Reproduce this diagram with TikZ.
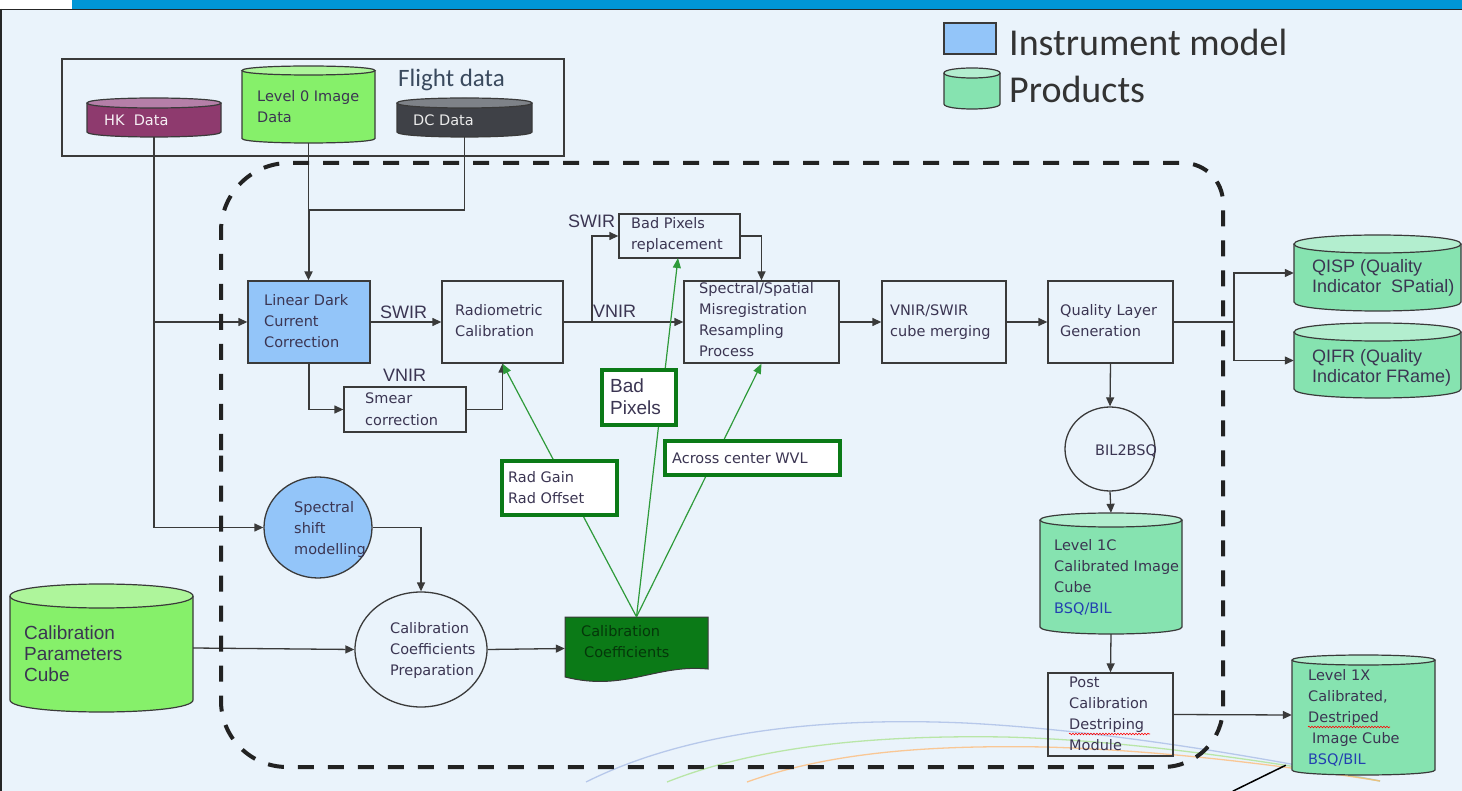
\documentclass[tikz,border=0pt]{standalone}
\usepackage{fontspec}
\setmainfont{DejaVu Sans}
\newfontfamily\farial{Liberation Sans}
\newfontfamily\fcarl{Carlito}
\usetikzlibrary{arrows.meta,shapes.geometric,fit,decorations.pathmorphing}
\definecolor{cbg}{HTML}{EAF3FB}
\definecolor{ctopbar}{HTML}{0096D6}
\definecolor{cln}{HTML}{3A3A3A}
\definecolor{cim}{HTML}{93C5F9}
\definecolor{cprod}{HTML}{86E3B0}
\definecolor{cprodtop}{HTML}{B3EECF}
\definecolor{clg}{HTML}{86F06A}
\definecolor{clgtop}{HTML}{AEF59B}
\definecolor{chk}{HTML}{8E3A6E}
\definecolor{chktop}{HTML}{B57FA8}
\definecolor{cdc}{HTML}{3F4147}
\definecolor{cdctop}{HTML}{7E8288}
\definecolor{cdg}{HTML}{0B7A17}
\definecolor{cgl}{HTML}{2E9A3A}
\definecolor{ctxt}{HTML}{3B3552}
\definecolor{cbsq}{HTML}{2340B0}
\definecolor{cdash}{HTML}{222222}
\definecolor{cfd}{HTML}{3A4A5E}
\newcommand{\mycyl}[8]{%
  \fill[#7] ({#2},{#4+#6}) -- ({#2},{#5-#6}) .. controls ({#2},{#5+#6/3}) and ({#3},{#5+#6/3}) .. ({#3},{#5-#6}) -- ({#3},{#4+#6}) -- cycle;
  \fill[#8] ({#2},{#4+#6}) .. controls ({#2},{#4-#6/3}) and ({#3},{#4-#6/3}) .. ({#3},{#4+#6}) .. controls ({#3},{#4+7*#6/3}) and ({#2},{#4+7*#6/3}) .. ({#2},{#4+#6}) -- cycle;
  \draw[cln, line width=1.2] ({#2},{#4+#6}) -- ({#2},{#5-#6}) .. controls ({#2},{#5+#6/3}) and ({#3},{#5+#6/3}) .. ({#3},{#5-#6}) -- ({#3},{#4+#6});
  \draw[cln, line width=1.2] ({#2},{#4+#6}) .. controls ({#2},{#4-#6/3}) and ({#3},{#4-#6/3}) .. ({#3},{#4+#6}) .. controls ({#3},{#4+7*#6/3}) and ({#2},{#4+7*#6/3}) .. ({#2},{#4+#6}) -- cycle;
  \node[fit={({#2},{#4}) ({#3},{#5})}, inner sep=0pt] (#1) {};
}
\tikzset{
  box/.style={draw=cln, line width=1.3, inner sep=0pt},
  con/.style={draw=cln, line width=1.3},
  arr/.style={draw=cln, line width=1.3, -{Triangle[length=9pt,width=8pt]}},
  gline/.style={draw=cgl, line width=1.2, -{Triangle[length=10pt,width=8pt]}},
  gbox/.style={draw=cdg, line width=3.5, fill=white, inner sep=0pt},
  btxt/.style={font=\fontsize{14.5}{21}\selectfont, text=ctxt, inner sep=0pt, anchor=base west, align=left},
  lbl/.style={font=\farial\fontsize{18}{20}\selectfont, text=ctxt, inner sep=0pt, anchor=base west, align=left},
  arc/.style={line width=1.3, opacity=0.75},
}
\begin{document}
\begin{tikzpicture}[x=1pt,y=-1pt]
\fill[cbg] (0,0) rectangle (1462,791);
\useasboundingbox (0,0) rectangle (1462,791);
\fill[white] (0,0) rectangle (72,9);
\fill[ctopbar] (72,0) rectangle (1462,9);
\draw[black!85, line width=1.5] (0,9.75) -- (1462,9.75);
\draw[black!85, line width=1.5] (0.75,9) -- (0.75,791);

% decorative arcs
\draw[arc, draw=cyan!45!blue!35] (586,782) .. controls (700,725) and (850,718) .. (965,723) .. controls (1100,730) and (1250,755) .. (1380,781);
\draw[arc, draw=green!50!olive!45] (667,782) .. controls (760,745) and (880,735) .. (1005,737) .. controls (1120,740) and (1250,758) .. (1380,781);
\draw[arc, draw=orange!55] (747,782) .. controls (830,752) and (930,745) .. (1045,747) .. controls (1150,750) and (1260,762) .. (1380,781);

% legend
\node[box, fill=cim, minimum width=52, minimum height=31] (lgb) at (970,38.5) {};
\node[font=\fcarl\fontsize{38}{40}\selectfont, text=black!80, inner sep=0pt, anchor=base west] (lgbt) at (1009,56) {Instrument model};
\mycyl{lgp}{944}{1000}{68}{109}{5}{cprod}{cprodtop}
\node[font=\fcarl\fontsize{38}{40}\selectfont, text=black!80, inner sep=0pt, anchor=base west] (lgpt) at (1009,103) {Products};

% flight data
\node[box, minimum width=502, minimum height=97] (fd) at (313,107.5) {};
\node[font=\fcarl\fontsize{25}{27}\selectfont, text=cfd, inner sep=0pt, anchor=base west] (fdt) at (398,87) {Flight data};
\mycyl{hk}{87}{221}{98}{137}{5}{chk}{chktop}
\mycyl{l0}{242}{375}{66}{143}{4.5}{clg}{clgtop}
\mycyl{dc}{397}{532}{98}{137}{5}{cdc}{cdctop}
\node[btxt, text=white!92!chk] (hkt) at (104,126) {HK\ \ Data};
\node[btxt] (l0t) at (257,123) {Level 0 Image\\Data};
\node[btxt, text=white!92!black] (dct) at (413,126) {DC Data};

% other cylinders
\mycyl{cpc}{10}{193}{584}{712}{12}{clg}{clgtop}
\mycyl{qisp}{1294}{1461}{235}{311}{9}{cprod}{cprodtop}
\mycyl{qifr}{1294}{1461}{323}{398}{9}{cprod}{cprodtop}
\mycyl{l1c}{1040}{1182}{513}{634}{7}{cprod}{cprodtop}
\mycyl{l1x}{1292}{1435}{655}{775}{5}{cprod}{cprodtop}

% boxes
\node[box, fill=cim, minimum width=122, minimum height=82] (ldc) at (309,322) {};
\node[box, minimum width=121, minimum height=82] (rad) at (502.5,322) {};
\node[box, minimum width=122, minimum height=45] (smear) at (405,409.5) {};
\node[box, minimum width=121, minimum height=44] (bpr) at (679.5,236) {};
\node[box, minimum width=155, minimum height=82] (ssp) at (761.5,322) {};
\node[box, minimum width=124, minimum height=82] (vs) at (944,322) {};
\node[box, minimum width=125, minimum height=82] (ql) at (1110.5,322) {};
\node[box, minimum width=125, minimum height=83] (post) at (1110.5,714.5) {};
\node[box, ellipse, fill=cim, minimum width=108, minimum height=101] (ssm) at (318,527.5) {};
\node[box, ellipse, minimum width=132, minimum height=115] (ccp) at (421,649.5) {};
\node[box, ellipse, minimum width=90, minimum height=84] (bil) at (1110,449) {};

% document
\fill[cdg] (565,617) -- (708,617) -- (708,669) .. controls (655,664) and (625,692) .. (565,677) -- cycle;
\draw[cln, line width=1] (565,617) -- (708,617) -- (708,669) .. controls (655,664) and (625,692) .. (565,677) -- cycle;
\node[fit={(565,617) (708,680)}, inner sep=0pt] (doc) {};

% coordinates
\coordinate (dj) at (308.5,210);
\coordinate (b1) at (592,322);
\coordinate (qb) at (1234,322);
\coordinate (bpt) at (678,258);

% connectors
\draw[arr] (hk.south) |- (ssm.west);
\draw[arr] (hk.south |- ldc.west) -- (ldc.west);
\draw[con] (l0.south) -- (dj);
\draw[arr, line width=2] (dj) -- (dj |- ldc.north);
\draw[con] (dc.south) |- (dj);
\draw[arr] (ldc.east) -- (rad.west);
\draw[arr] (ldc.south) |- (smear.west);
\draw[arr] (smear.east) -| (rad.south);
\draw[arr] (rad.east) -- (ssp.west);
\draw[arr] (b1) |- (bpr.west);
\draw[arr] (bpr.east) -| (ssp.north);
\draw[arr] (ssp.east) -- (vs.west);
\draw[arr] (vs.east) -- (ql.west);
\draw[con] (ql.east) -- (qb);
\draw[arr] (qb) |- (qisp.west);
\draw[arr] (qb) |- (qifr.west);
\draw[arr] (ql.south) -- (bil.north);
\draw[arr] (bil.south) -- (l1c.north);
\draw[arr] (l1c.south) -- (post.north);
\draw[arr] (post.east) -- (l1x.west);
\draw[arr] (ssm.east) -| (ccp.north);
\draw[arr] (cpc.east) -- (ccp.west);
\draw[arr] (ccp.east) -- (doc.west);
\draw[gline] (doc.north) -- (rad.south);
\draw[gline] (doc.north) -- (bpt);
\draw[gline] (doc.north) -- (ssp.south);

% dashed border
\draw[cdash, line width=4, dash pattern=on 16pt off 14pt] (221,450) [rounded corners=68] -- (221,163) [rounded corners=40] -- (1223,163) [rounded corners=60] -- (1223,767) [rounded corners=66] -- (221,767) [rounded corners=0] -- cycle;

% green label boxes
\node[gbox, minimum width=115, minimum height=54] (rgb) at (559.5,488) {};
\node[gbox, minimum width=74, minimum height=55] (bpx) at (639,397.5) {};
\node[gbox, minimum width=175, minimum height=34] (acw) at (752.5,458) {};

% stray line
\draw[black, line width=1.5] (l1x.south west) ++(-6,-10) coordinate (sl) -- ++(-53,26);

% texts (anchor = baseline of last line)
\node[btxt] (ldct) at (264,348) {Linear Dark\\Current\\Correction};
\node[btxt] (radt) at (455,337) {Radiometric\\Calibration};
\node[btxt] (smeart) at (365,425) {Smear\\correction};
\node[btxt] (bprt) at (631,250) {Bad Pixels\\replacement};
\node[btxt] (sspt) at (699,357) {Spectral/Spatial\\Misregistration\\Resampling\\Process};
\node[btxt] (vst) at (890,337) {VNIR/SWIR\\cube merging};
\node[btxt] (qlt) at (1060,337) {Quality Layer\\Generation};
\node[btxt] (bilt) at (1095,455) {BIL2BSQ};
\node[btxt] (l1ct) at (1054,613) {Level 1C\\Calibrated Image\\Cube\\\textcolor{cbsq}{BSQ/BIL}};
\node[btxt] (postt) at (1069,750) {Post\\Calibration\\Destriping\\Module};
\node[btxt] (l1xt) at (1308,764) {Level 1X\\Calibrated,\\Destriped\\\hspace{4pt}Image Cube\\\textcolor{cbsq}{BSQ/BIL}};
\node[btxt] (ssmt) at (294,554) {Spectral\\shift\\modelling};
\node[btxt] (ccpt) at (390,675) {Calibration\\Coefficients\\Preparation};
\node[btxt, text=black!55!cdg] (doct) at (581,657) {Calibration\\\hspace{3pt}Coefficients};
\node[btxt] (rgbt) at (508,503) {Rad Gain\\Rad Offset};
\node[lbl, font=\farial\fontsize{19}{21}\selectfont] (bpxt) at (610,414) {Bad\\Pixels};
\node[btxt] (acwt) at (672,463) {Across center WVL};
\node[lbl, font=\farial\fontsize{19}{21}\selectfont] (cpct) at (24,681) {Calibration\\Parameters\\Cube};
\node[lbl] (qispt) at (1312,293) {QISP (Quality\\Indicator\ \ SPatial)};
\node[lbl] (qifrt) at (1312,383) {QIFR (Quality\\Indicator FRame)};
\node[lbl] (swir1) at (380,319) {SWIR};
\node[lbl] (vnir1) at (383,382) {VNIR};
\node[lbl] (vnir2) at (593,318) {VNIR};
\node[lbl] (swir2) at (568,228) {SWIR};

% spell-check squiggles
\draw[red, line width=0.6, decorate, decoration={snake, segment length=3pt, amplitude=0.8pt}] (1069,734) -- (1150,734);
\draw[red, line width=0.6, decorate, decoration={snake, segment length=3pt, amplitude=0.8pt}] (1308,727) -- (1390,727);
\end{tikzpicture}
\end{document}
